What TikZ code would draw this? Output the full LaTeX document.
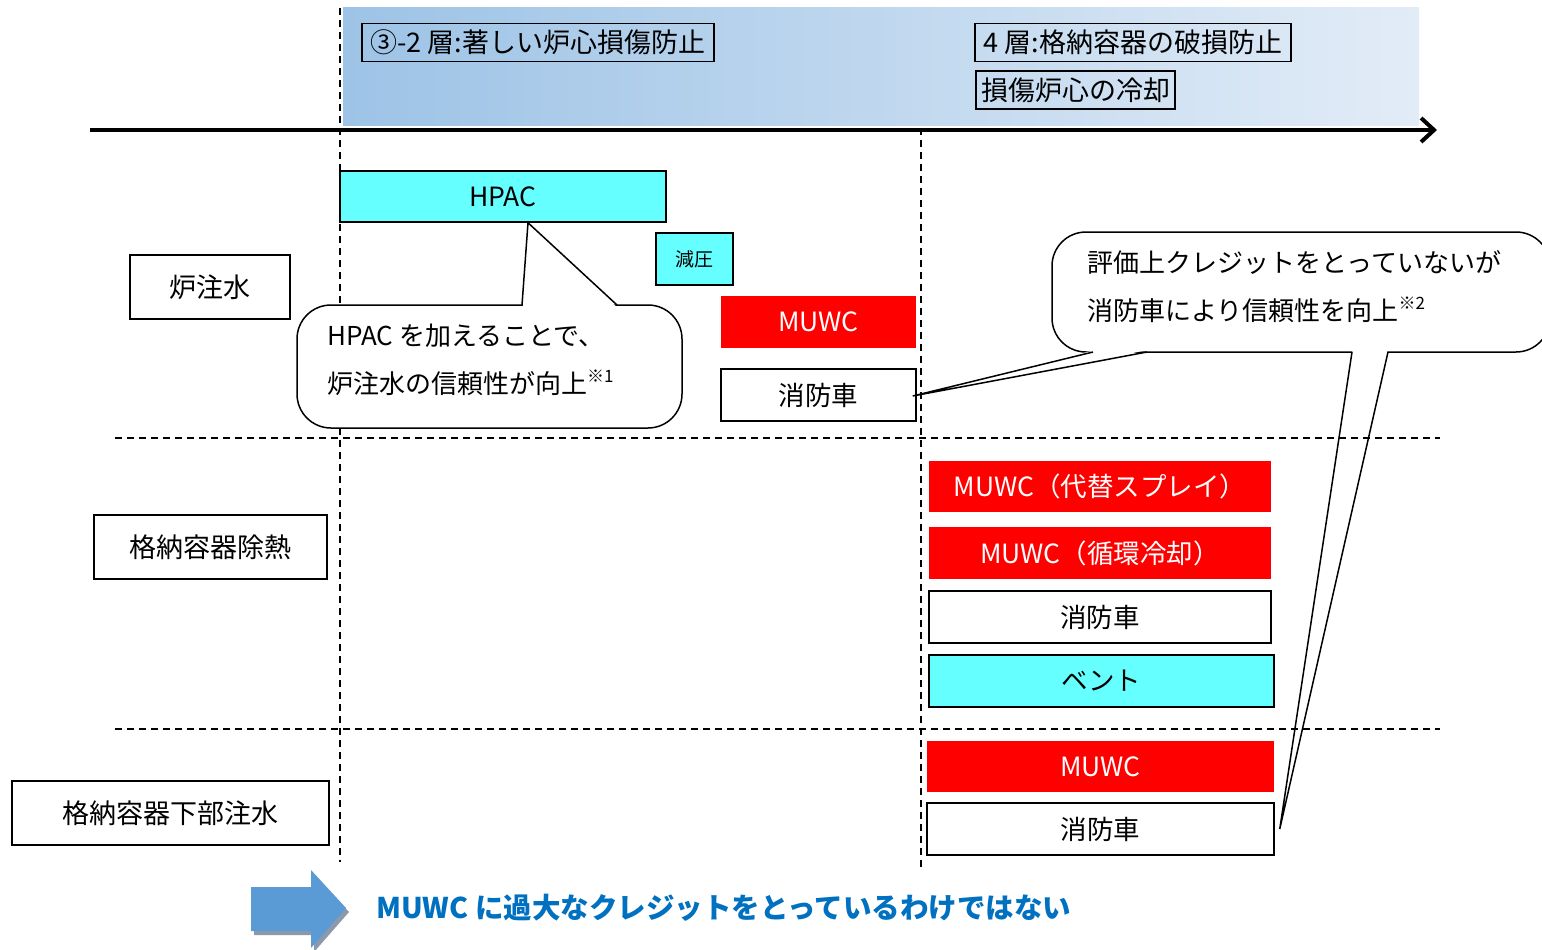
\documentclass[tikz,border=0pt]{standalone}
\usepackage{fontspec}
\setmainfont{Noto Sans CJK JP}
\usetikzlibrary{arrows.meta,calc,positioning}
\definecolor{Aqua}{RGB}{102,255,255}
\definecolor{Scarlet}{RGB}{255,0,0}
\definecolor{SkyL}{RGB}{157,195,230}
\definecolor{SkyR}{RGB}{226,236,247}
\definecolor{Ocean}{RGB}{0,112,192}
\definecolor{ArrowBlue}{RGB}{91,155,213}
\definecolor{ArrowShade}{RGB}{140,152,172}
\newcommand{\kome}[1]{\raisebox{0.42em}{\fontsize{17}{17}\selectfont ※#1}}

\begin{document}
\begin{tikzpicture}[x=1pt,y=-1pt,
  every node/.style={inner sep=0pt, font=\fontsize{26.5}{30}\selectfont},
  sysbox/.style={draw, line width=1.5pt, fill=white, minimum height=52pt},
  redbox/.style={fill=Scarlet, text=white, minimum height=52pt},
  cyanbox/.style={sysbox, fill=Aqua},
  catbox/.style={draw, line width=1.5pt, minimum height=64pt, font=\fontsize{27}{30}\selectfont},
  layerbox/.style={draw, line width=1.5pt, minimum height=38pt, font=\fontsize{27}{30}\selectfont},
  balloon/.style={draw, line width=1.5pt, fill=white, rounded corners=34pt},
  notetext/.style={align=left, font=\fontsize{26}{48}\selectfont},
  sep/.style={dash pattern=on 7pt off 5pt, line width=1.5pt}]
\useasboundingbox (0,0) rectangle (1542,950);
% layer band
\shade[left color=SkyL, right color=SkyR] (343,8) rectangle (1419,125);
\node[layerbox, minimum width=352] (lay3) at (538,42.5) {③-2 層:著しい炉心損傷防止};
\node[layerbox, minimum width=316] (lay4) at (1133,42.5) {4 層:格納容器の破損防止};
\node[layerbox, minimum width=199] (cool) at (1075.5,90) {損傷炉心の冷却};
% time axis
\coordinate (t0) at (90,130);
\coordinate (t1) at (1437,130);
\draw[line width=4pt, -{Straight Barb[length=13pt, width=24pt]}] (t0) -- (t1);
\draw[sep] (340,8) -- (340,862);
\draw[sep] (921,128) -- (921,870);
%
% categories
\node[catbox, minimum width=160] (inj) at (210,287) {炉注水};
\node[catbox, minimum width=233] (heat) at (210.5,547) {格納容器除熱};
\node[catbox, minimum width=317] (lower) at (170.5,813) {格納容器下部注水};
%
% layer 3-2
\node[cyanbox, minimum width=326, minimum height=51] (hpac) at (503,196.5) {HPAC};
\node[cyanbox, minimum width=77, font=\fontsize{19}{22}\selectfont] (depr) at (694.5,259) {減圧};
\node[redbox, minimum width=195] (muwc1) at (818.5,322) {MUWC};
\node[sysbox, minimum width=195] (fire1) at (818.5,395) {消防車};
%
% layer 4
\node[redbox, minimum width=342, minimum height=51] (spray) at (1100,486.5) {MUWC（代替スプレイ）};
\node[redbox, minimum width=342] (recirc) at (1100,553) {MUWC（循環冷却）};
\node[sysbox, minimum width=342] (fire2) at (1100,617) {消防車};
\node[cyanbox, minimum width=345] (vent) at (1101.5,681) {ベント};
\node[redbox, minimum width=347, minimum height=51] (muwc2) at (1100.5,766.5) {MUWC};
\node[sysbox, minimum width=347] (fire3) at (1100.5,829) {消防車};
%
% notes
\node[balloon, minimum width=385, minimum height=123] (note1) at (489.5,366.5) {};
\coordinate (tip1) at ($(hpac.south)+(25,0)$);
\fill[white] (522.8,306.6) -- (tip1) -- (616.2,306.6) -- cycle;
\draw[line width=1.5pt] (522,305) -- (tip1) -- (617,305);
\node[notetext, anchor=west] (note1txt) at (327,359.5)
  {HPAC を加えることで、\\炉注水の信頼性が向上\kome{1}};
%
\node[balloon, minimum width=498, minimum height=120] (note2) at (1301,292) {};
\coordinate (tip2) at ($(fire1.east)+(-4,1)$);
\coordinate (tip3) at ($(fire3.east)+(5,0)$);
\fill[white] (1094,350.4) -- (tip2) -- (1146,350.4) -- cycle;
\draw[line width=1.5pt] (1093,352) -- (tip2) -- (1147,352);
\fill[white] (1352.5,350.4) -- (tip3) -- (1387.5,350.4) -- cycle;
\draw[line width=1.5pt] (1352,352) -- (tip3) -- (1388,352);
\node[notetext, anchor=west] (note2txt) at (1087,286.5)
  {評価上クレジットをとっていないが\\消防車により信頼性を向上\kome{2}};
%
\draw[sep] (115,438) -- (1440,438);
\draw[sep] (115,729) -- (1440,729);
%
% conclusion
\fill[ArrowShade] (254,891) -- (314,891) -- (314,874) -- (349,912) -- (314,952) -- (314,935) -- (254,935) -- cycle;
\fill[ArrowBlue] (251,887) -- (311,887) -- (311,870) -- (346,908) -- (311,948) -- (311,931) -- (251,931) -- cycle;
\node[anchor=west, text=Ocean, font=\bfseries\fontsize{28.5}{30}\selectfont] (msg) at (376,908)
  {MUWC に過大なクレジットをとっているわけではない};
\end{tikzpicture}
\end{document}
